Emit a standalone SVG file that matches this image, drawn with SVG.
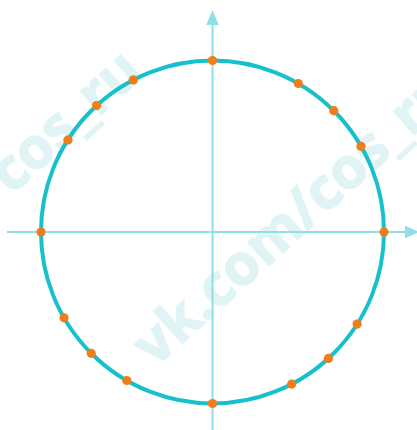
<svg xmlns="http://www.w3.org/2000/svg" width="417" height="430" viewBox="0 0 417 430">
  <style>
    .wm { font-family: "Open Sans", "Liberation Sans", sans-serif; font-weight: 700; font-size: 57px; fill: #e0f3f5; stroke: #e0f3f5; stroke-width: 1.5; }
    .axis { stroke: #8fdfe6; stroke-width: 2; fill: none; }
    .head { fill: #8fdfe6; }
    .unit { stroke: #18c0cc; stroke-width: 4; fill: none; }
    .pt { fill: #f07d1b; }
  </style>
  <rect width="417" height="430" fill="#ffffff"/>
  <g id="watermark">
    <text class="wm" transform="translate(155,368) rotate(-42)">vk.com/cos_ru</text>
    <text class="wm" transform="translate(-158,348) rotate(-42)">vk.com/cos_ru</text>
  </g>
  <g id="axes">
    <line class="axis" x1="212.5" y1="22" x2="212.5" y2="430"/>
    <polygon class="head" points="212.5,10 206.2,25 218.8,25"/>
    <line class="axis" x1="7" y1="232" x2="408" y2="232"/>
    <polygon class="head" points="419,232 405,225.8 405,238.2"/>
  </g>
  <g id="circle">
    <circle class="unit" cx="212.5" cy="232" r="171.5"/>
  </g>
  <g id="points">
    <circle class="pt" cx="212.5" cy="60.5" r="4.6"/>
    <circle class="pt" cx="298.3" cy="83.5" r="4.6"/>
    <circle class="pt" cx="333.8" cy="110.7" r="4.6"/>
    <circle class="pt" cx="361.0" cy="146.3" r="4.6"/>
    <circle class="pt" cx="384.0" cy="232" r="4.6"/>
    <circle class="pt" cx="357.1" cy="324.1" r="4.6"/>
    <circle class="pt" cx="328.4" cy="358.4" r="4.6"/>
    <circle class="pt" cx="291.7" cy="384.1" r="4.6"/>
    <circle class="pt" cx="212.5" cy="403.5" r="4.6"/>
    <circle class="pt" cx="126.8" cy="380.5" r="4.6"/>
    <circle class="pt" cx="91.2" cy="353.3" r="4.6"/>
    <circle class="pt" cx="64.0" cy="317.8" r="4.6"/>
    <circle class="pt" cx="41.0" cy="232" r="4.6"/>
    <circle class="pt" cx="67.9" cy="139.9" r="4.6"/>
    <circle class="pt" cx="96.6" cy="105.6" r="4.6"/>
    <circle class="pt" cx="133.3" cy="79.9" r="4.6"/>
  </g>
</svg>
